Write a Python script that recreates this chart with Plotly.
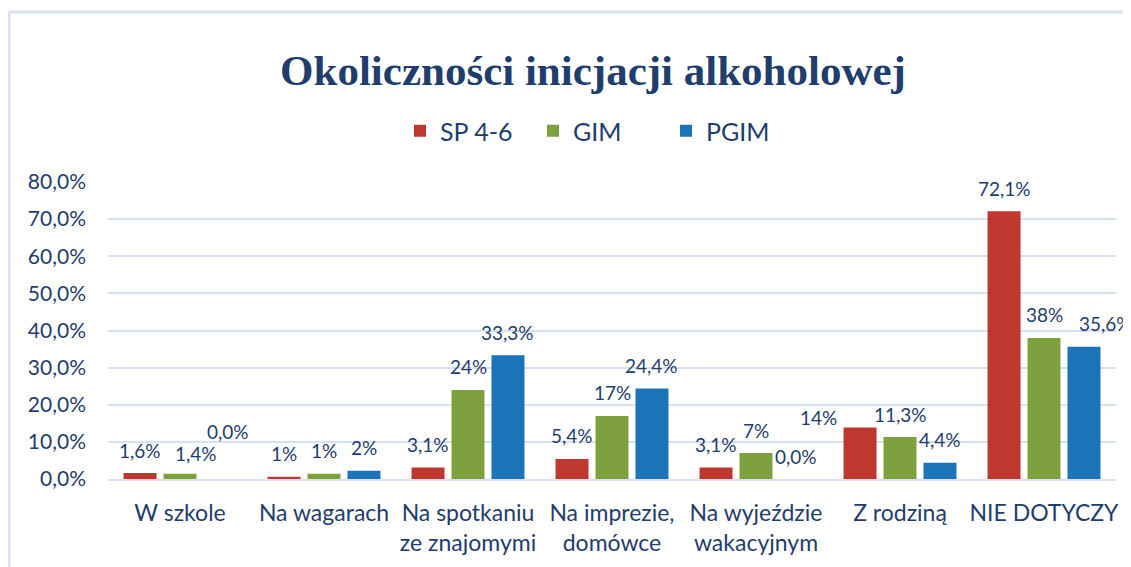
import plotly.graph_objects as go

# ---- data ----
categories = ["W szkole", "Na wagarach", "Na spotkaniu<br>ze znajomymi",
              "Na imprezie,<br>domówce", "Na wyjeździe<br>wakacyjnym",
              "Z rodziną", "NIE DOTYCZY"]
series_names = ["SP 4-6", "GIM", "PGIM"]
sp_values = [1.6, 0.6, 3.1, 5.4, 3.1, 13.9, 72.1]
gim_values = [1.4, 1.4, 24.0, 17.0, 7.0, 11.3, 38.0]
pgim_values = [0.0, 2.2, 33.3, 24.4, 0.0, 4.4, 35.6]
sp_labels = ["1,6%", "1%", "3,1%", "5,4%", "3,1%", "14%", "72,1%"]
gim_labels = ["1,4%", "1%", "24%", "17%", "7%", "11,3%", "38%"]
pgim_labels = ["0,0%", "2%", "33,3%", "24,4%", "0,0%", "4,4%", "35,6%"]
y_tick_values = [0, 10, 20, 30, 40, 50, 60, 70, 80]
y_tick_text = ["0,0%", "10,0%", "20,0%", "30,0%", "40,0%", "50,0%", "60,0%", "70,0%", "80,0%"]

# ---- style ----
colors = ["#C0372F", "#7FA03E", "#1C74B8"]
text_color = "#1F3D6D"
grid_color = "#D7E1F1"
font_family = "Lato, 'Open Sans', sans-serif"
BARGAP = 0.167
BARGROUPGAP = 0.175
LABEL_LIFT = 23  # px above bar top (label centre)
# manual label nudges (series index, category index) -> (dx px, dy px)
label_nudges = {(1, 0): (16, -3), (2, 0): (8, 25), (0, 5): (-42, -13), (2, 6): (22, 0)}

# the page body adds an 8px offset; the figure is sized to fill the rest
OFF = 8
W, H = 1131 - OFF, 567 - OFF
PL, PR, PT, PB = 108 - OFF, 1116 - OFF, 182 - OFF, 479 - OFF  # plot area in figure px

values = [sp_values, gim_values, pgim_values]
labels = [sp_labels, gim_labels, pgim_labels]
xpos = list(range(len(categories)))

fig = go.Figure()
for j, name in enumerate(series_names):
    fig.add_trace(go.Bar(
        x=xpos, y=values[j], name=name,
        marker=dict(color=colors[j], line=dict(width=0)),
        hoverinfo="name+y",
    ))

slot = (1 - BARGAP) / len(series_names)
annotations = []
for j in range(len(series_names)):
    for i in xpos:
        dx, dy = label_nudges.get((j, i), (0, 0))
        annotations.append(dict(
            x=i + (j - 1) * slot, y=values[j][i], xref="x", yref="y",
            text=labels[j][i], showarrow=False,
            xanchor="center", yanchor="middle",
            xshift=dx, yshift=LABEL_LIFT + dy,
            font=dict(family=font_family, size=19, color=text_color),
        ))

pw, ph = PR - PL, PB - PT
def px_to_paper_x(px):
    return (px - OFF - PL) / pw
def px_to_paper_y(py):
    return (PB - (py - OFF)) / ph

fig.update_layout(
    width=W, height=H,
    paper_bgcolor="white", plot_bgcolor="white",
    margin=dict(l=PL, r=W - PR, t=PT, b=H - PB, pad=0),
    barmode="group", bargap=BARGAP, bargroupgap=BARGROUPGAP,
    title=dict(text="<b>Okoliczności inicjacji alkoholowej</b>",
               x=(593 - OFF) / W, xref="container", xanchor="center",
               y=1 - (70 - OFF) / H, yref="container", yanchor="middle",
               font=dict(family="'Liberation Serif', 'Times New Roman', serif",
                         size=43, color=text_color)),
    legend=dict(orientation="h", x=px_to_paper_x(400), xanchor="left",
                y=px_to_paper_y(131), yanchor="middle",
                font=dict(family=font_family, size=25, color=text_color),
                entrywidth=88, entrywidthmode="pixels",
                itemwidth=30, traceorder="normal"),
    annotations=annotations,
    font=dict(family=font_family, color=text_color),
    shapes=[
        dict(type="line", xref="paper", yref="paper",
             x0=px_to_paper_x(9), x1=1.2, y0=px_to_paper_y(12), y1=px_to_paper_y(12),
             line=dict(color=grid_color, width=3)),
        dict(type="line", xref="paper", yref="paper",
             x0=px_to_paper_x(9), x1=px_to_paper_x(9), y0=px_to_paper_y(12), y1=-0.5,
             line=dict(color=grid_color, width=3)),
    ],
)
fig.update_yaxes(range=[0, 80], tickvals=y_tick_values, ticktext=y_tick_text,
                 showgrid=True, gridcolor=grid_color, gridwidth=2,
                 zeroline=False, showline=False, ticks="",
                 ticklabelstandoff=21,
                 tickfont=dict(family=font_family, size=21, color=text_color))
fig.update_xaxes(tickvals=xpos, ticktext=categories, range=[-0.5, len(categories) - 0.5],
                 showgrid=False, zeroline=False, showline=True, linecolor=grid_color, linewidth=2,
                 ticks="", ticklabelstandoff=12,
                 tickfont=dict(family=font_family, size=23, color=text_color))

fig.write_html("out.html")
